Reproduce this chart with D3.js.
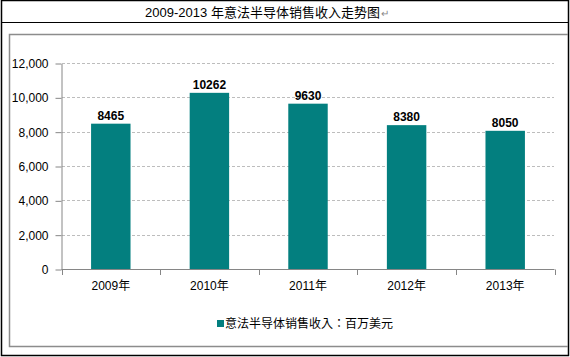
<!DOCTYPE html>
<html><head><meta charset="utf-8">
<script src="https://cdn.jsdelivr.net/npm/d3@7"></script>
<style>body{margin:0;background:#fff}svg{display:block}</style>
</head><body>
<svg id="c" width="570" height="357"></svg>
<script>
const categories = ["2009年","2010年","2011年","2012年","2013年"];
const values = [8465, 10262, 9630, 8380, 8050];
const yTicks = [0, 2000, 4000, 6000, 8000, 10000, 12000];
const titleText = "2009-2013 年意法半导体销售收入走势图";
const legendText = "意法半导体销售收入：百万美元";

const svg = d3.select("#c");
const font = "'Liberation Sans', Arial, 'Noto Sans CJK SC', sans-serif";
const fontTC = "'Liberation Sans', Arial, 'Noto Sans CJK TC', sans-serif";
const teal = "#037F7F";

// outer frame
svg.append("rect").attr("x",1.5).attr("y",0.5).attr("width",567).attr("height",355)
  .attr("fill","none").attr("stroke","#000").attr("stroke-width",1.5);
svg.append("line").attr("x1",1).attr("x2",569).attr("y1",22.5).attr("y2",22.5)
  .attr("stroke","#000").attr("stroke-width",1.2);
// chart area border
svg.append("path").attr("d","M568,34.5 H9.5 V346.5 H568")
  .attr("fill","none").attr("stroke","#8c8c8c").attr("stroke-width",1.5);

// title
const t = svg.append("text").attr("x",267).attr("y",17).attr("text-anchor","middle")
  .attr("font-family",font).attr("font-size",13).attr("fill","#000");
t.append("tspan").text(titleText);
t.append("tspan").attr("fill","#888").attr("font-size",10).attr("dx",1).text("↵");

const x = d3.scaleBand().domain(categories).range([61.5,554.5]).paddingInner(0.6).paddingOuter(0.3);
const y = d3.scaleLinear().domain([0,12000]).range([269,63]);

// gridlines
svg.append("g").selectAll("line").data(yTicks.filter(d=>d>0)).join("line")
  .attr("x1",62).attr("x2",554).attr("y1",d=>Math.round(y(d))+0.5).attr("y2",d=>Math.round(y(d))+0.5)
  .attr("stroke","#bdbdbd").attr("stroke-dasharray","3,2");

// y axis
const ya = svg.append("g").attr("transform","translate(61.5,0.5)")
  .call(d3.axisLeft(y).tickValues(yTicks).tickFormat(d3.format(",")).tickSize(6).tickSizeOuter(0).tickPadding(7));
ya.select(".domain").attr("stroke","#868686");
ya.selectAll(".tick line").attr("stroke","#868686");
ya.selectAll("text").attr("font-family",font).attr("font-size",12).attr("fill","#000");

// x axis
const xa = svg.append("g").attr("transform","translate(0,269.5)")
  .call(d3.axisBottom(x).tickSize(0).tickPadding(12));
xa.select(".domain").attr("stroke","#868686").attr("d","M61.5,0H554.5");
xa.selectAll("text").attr("font-family",font).attr("font-size",12).attr("fill","#000");
const x0 = x.range()[0];
svg.append("g").selectAll("line").data(d3.range(categories.length+1)).join("line")
  .attr("x1",i=>Math.round(x0+i*((554.5-61.5)/categories.length))+0.5)
  .attr("x2",i=>Math.round(x0+i*((554.5-61.5)/categories.length))+0.5)
  .attr("y1",269.5).attr("y2",275).attr("stroke","#868686");

// bars
svg.append("g").selectAll("rect").data(values).join("rect")
  .attr("x",(d,i)=>x(categories[i])).attr("width",x.bandwidth())
  .attr("y",d=>y(d)).attr("height",d=>y(0)-y(d)).attr("fill",teal);

// labels
svg.append("g").selectAll("text").data(values).join("text")
  .attr("x",(d,i)=>x(categories[i])+x.bandwidth()/2).attr("y",d=>y(d)-4)
  .attr("text-anchor","middle").attr("font-family",font).attr("font-weight","bold")
  .attr("font-size",12).attr("fill","#000").text(d=>d);

// legend
svg.append("rect").attr("x",217).attr("y",320).attr("width",7).attr("height",7).attr("fill",teal);
svg.append("text").attr("x",225).attr("y",328).attr("font-family",fontTC).attr("font-size",12)
  .attr("fill","#000").text(legendText);
</script>
</body></html>
